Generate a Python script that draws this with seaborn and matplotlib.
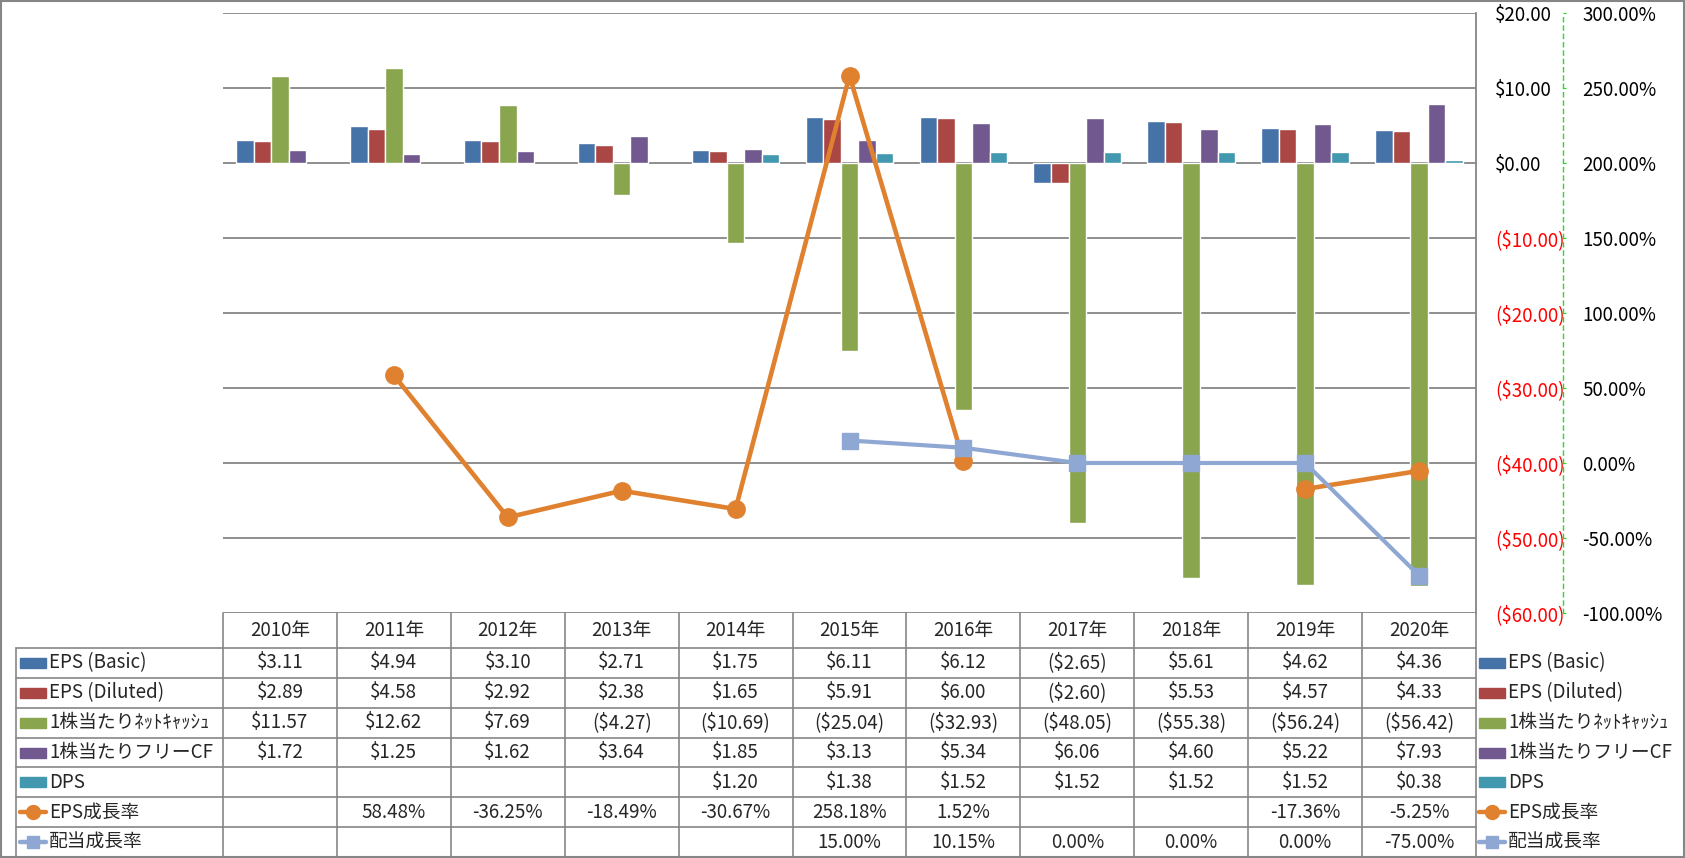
import numpy as np
import pandas as pd
import matplotlib
matplotlib.use("Agg")
import matplotlib.pyplot as plt
from matplotlib.patches import Rectangle
from matplotlib.lines import Line2D
import seaborn as sns

# ---------------- data ----------------
years = ["2010年", "2011年", "2012年", "2013年", "2014年", "2015年",
         "2016年", "2017年", "2018年", "2019年", "2020年"]
eps_basic = [3.11, 4.94, 3.10, 2.71, 1.75, 6.11, 6.12, -2.65, 5.61, 4.62, 4.36]
eps_diluted = [2.89, 4.58, 2.92, 2.38, 1.65, 5.91, 6.00, -2.60, 5.53, 4.57, 4.33]
net_cash_ps = [11.57, 12.62, 7.69, -4.27, -10.69, -25.04, -32.93, -48.05, -55.38, -56.24, -56.42]
fcf_ps = [1.72, 1.25, 1.62, 3.64, 1.85, 3.13, 5.34, 6.06, 4.60, 5.22, 7.93]
dps = [np.nan, np.nan, np.nan, np.nan, 1.20, 1.38, 1.52, 1.52, 1.52, 1.52, 0.38]
eps_growth = [np.nan, 58.48, -36.25, -18.49, -30.67, 258.18, 1.52, np.nan, np.nan, -17.36, -5.25]
div_growth = [np.nan, np.nan, np.nan, np.nan, np.nan, 15.00, 10.15, 0.00, 0.00, 0.00, -75.00]

bar_names = ["EPS (Basic)", "EPS (Diluted)", "1株当たりﾈｯﾄｷｬｯｼｭ", "1株当たりフリーCF", "DPS"]
line_names = ["EPS成長率", "配当成長率"]
bar_values = [eps_basic, eps_diluted, net_cash_ps, fcf_ps, dps]
line_values = [eps_growth, div_growth]

left_ticks = [-60, -50, -40, -30, -20, -10, 0, 10, 20]
right_ticks = [-100, -50, 0, 50, 100, 150, 200, 250, 300]

bar_colors = ["#4572A7", "#AA4643", "#89A54E", "#71588F", "#4198AF"]
line_colors = ["#E0812F", "#8FA8D3"]

# ---------------- style ----------------
sns.set_style("white")
plt.rcParams["font.family"] = ["Noto Sans CJK JP", "DejaVu Sans"]
FS = 13.5
GRID = "#868686"

W, H = 1685, 858
fig = plt.figure(figsize=(W / 100, H / 100), dpi=100)


def fx(x):
    return x / W


def fy(y):
    return 1 - y / H


PL, PR, PT, PB = 223, 1476, 13, 613
ax = fig.add_axes([fx(PL), fy(PB), (PR - PL) / W, (PB - PT) / H])

rows = []
for name, vals in zip(bar_names, bar_values):
    for yr, v in zip(years, vals):
        if not np.isnan(v):
            rows.append({"year": yr, "series": name, "value": v})
df = pd.DataFrame(rows)

sns.barplot(data=df, x="year", y="value", hue="series", order=years,
            hue_order=bar_names, palette=bar_colors, width=0.77,
            saturation=1, errorbar=None, legend=False, ax=ax, zorder=2)

ax.set_xlim(-0.5, len(years) - 0.5)
ax.set_ylim(-60, 20)
ax.set_xlabel("")
ax.set_ylabel("")
ax.tick_params(axis="x", length=0, labelbottom=False)
ax.grid(axis="y", color=GRID, lw=1.3)
ax.grid(axis="x", visible=False)
ax.set_axisbelow(True)

# secondary axis
ax2 = ax.twinx()
ax2.set_ylim(-100, 300)
ax2.set_yticks(right_ticks)
ax2.set_yticklabels([f"{v:.2f}%" for v in right_ticks])
for s in ["left", "top", "bottom"]:
    ax2.spines[s].set_visible(False)
ax2.spines["right"].set_position(("axes", 1 + (1563 - PR) / (PR - PL)))
ax2.spines["right"].set_color("#22DD22")
ax2.spines["right"].set_linestyle((0, (3, 3)))
ax2.spines["right"].set_linewidth(1.0)
ax2.tick_params(axis="y", colors="#22DD22", labelcolor="black", length=2.5,
                pad=11.5, labelsize=FS)

# primary ticks on right (after twinx, which resets to left)
ax.yaxis.tick_right()
ax.set_yticks(left_ticks)


def money(v):
    return f"${v:.2f}" if v >= 0 else f"(${-v:.2f})"


ax.set_yticklabels([money(v) for v in left_ticks])
ax.tick_params(axis="y", length=0, pad=13.5, labelsize=FS, left=False,
               labelleft=False, right=True, labelright=True)
for lbl, v in zip(ax.get_yticklabels(which="major"), left_ticks):
    lbl.set_color("#FF0000" if v < 0 else "black")
for s in ["left", "top", "bottom"]:
    ax.spines[s].set_visible(False)
ax.spines["right"].set_visible(True)
ax.spines["right"].set_color(GRID)
ax.spines["right"].set_linewidth(1.3)

xs = np.arange(len(years))
ax2.plot(xs, eps_growth, color=line_colors[0], lw=3.3, marker="o", ms=12.5,
         zorder=4, solid_capstyle="round")
ax2.plot(xs, div_growth, color=line_colors[1], lw=3.0, marker="s", ms=11.5,
         zorder=5, solid_capstyle="round")

# ---------------- data table ----------------
col_w = (PR - PL) / len(years)
row_top = 648
row_h = (857 - 648) / 7
TL = 16

lines = []
for k in range(len(years) + 1):
    x = PL + k * col_w
    lines.append(((x, x), (PB, 857)))
lines.append(((TL, TL), (row_top, 857)))
for i in range(8):
    y = row_top + i * row_h
    lines.append(((TL, PR), (y, y)))
for (x0, x1), (y0, y1) in lines:
    fig.add_artist(Line2D([fx(x0), fx(x1)], [fy(y0), fy(y1)], color=GRID,
                          lw=1.2, transform=fig.transFigure))

for k, yr in enumerate(years):
    fig.text(fx(PL + (k + 0.5) * col_w), fy((PB + row_top) / 2), yr,
             ha="center", va="center", fontsize=FS)

all_names = bar_names + line_names
all_vals = bar_values + line_values


def cell(i, v):
    if np.isnan(v):
        return ""
    if i < 5:
        return money(v)
    return f"{v:.2f}%"


def legend_key(x0, yc, i):
    x1 = x0 + 26
    if i < 5:
        fig.add_artist(Rectangle((fx(x0), fy(yc + 5)), 26 / W, 10 / H,
                                 color=bar_colors[i], transform=fig.transFigure))
    else:
        c = line_colors[i - 5]
        m = "o" if i == 5 else "s"
        fig.add_artist(Line2D([fx(x0), fx(x1)], [fy(yc), fy(yc)], color=c, lw=3.2,
                              transform=fig.transFigure))
        fig.add_artist(Line2D([fx((x0 + x1) / 2)], [fy(yc)], color=c, marker=m,
                              ms=10 if m == "o" else 9, lw=0,
                              transform=fig.transFigure))


for i, (name, vals) in enumerate(zip(all_names, all_vals)):
    yc = row_top + (i + 0.5) * row_h
    legend_key(20, yc, i)
    fig.text(fx(49), fy(yc), name, ha="left", va="center", fontsize=FS)
    for k, v in enumerate(vals):
        fig.text(fx(PL + (k + 0.5) * col_w), fy(yc), cell(i, v),
                 ha="center", va="center", fontsize=FS)
    legend_key(1479, yc, i)
    fig.text(fx(1508), fy(yc), name, ha="left", va="center", fontsize=FS)

fig.add_artist(Rectangle((fx(1), fy(857)), (W - 2) / W, (H - 2) / H, fill=False,
                         edgecolor=GRID, lw=1.5, transform=fig.transFigure))

fig.savefig("out.png", dpi=100)
